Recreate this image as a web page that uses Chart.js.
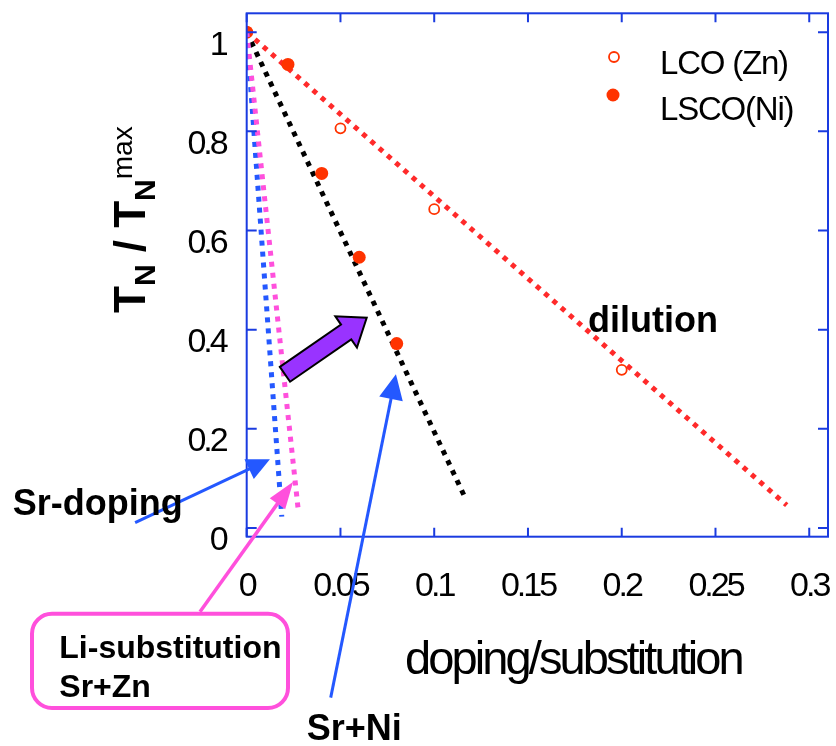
<!DOCTYPE html>
<html>
<head>
<meta charset="utf-8">
<script src="https://cdn.jsdelivr.net/npm/chart.js@4.4.1/dist/chart.umd.min.js"></script>
<style>
  html, body { margin: 0; padding: 0; background: #fff; }
  #wrap { width: 836px; height: 746px; }
</style>
</head>
<body>
<div id="wrap"><canvas id="c" width="836" height="746"></canvas></div>
<script>
// Measured points: T_N / T_N^max against doping / substitution level
const lcoZnX = [0, 0.05, 0.1, 0.2];
const lcoZnY = [1, 0.806, 0.643, 0.319];
const lscoNiX = [0, 0.022, 0.04, 0.06, 0.08];
const lscoNiY = [1, 0.935, 0.715, 0.546, 0.372];

// Guide lines (dotted)
const dilutionX = [0, 0.288];
const dilutionY = [1, 0.046];
const srNiX = [0, 0.116];
const srNiY = [1, 0.065];
const srDopingX = [0, 0.0187];
const srDopingY = [1, 0.023];
const srZnX = [0, 0.0275];
const srZnY = [1, 0.036];

// Axis ticks and text
const xTicks = [0, 0.05, 0.1, 0.15, 0.2, 0.25, 0.3];
const yTicks = [0, 0.2, 0.4, 0.6, 0.8, 1];
const seriesNames = ['LCO (Zn)', 'LSCO(Ni)'];
const xTitle = 'doping/substitution';

const AXIS = '#1a3be0';
const RED_PT = '#ff3300';
const RED_LN = '#ff2a2a';
const BLUE = '#2458ff';
const MAGENTA = '#ff50dc';
const PURPLE = '#9933ff';
const FONT = '"Liberation Sans", Arial, sans-serif';

const pts = (xs, ys) => xs.map((x, i) => ({ x: x, y: ys[i] }));

function dotted(label, xs, ys, color, order) {
  return {
    label: label, data: pts(xs, ys), showLine: true,
    borderColor: color, borderWidth: 5, borderDash: [5, 6], borderCapStyle: 'butt',
    pointRadius: 0, pointHoverRadius: 0, fill: false, order: order
  };
}

function headArrow(ctx, x1, y1, x2, y2, color, lw, headLen, headW) {
  const a = Math.atan2(y2 - y1, x2 - x1);
  const c = Math.cos(a), s = Math.sin(a);
  const bx = x2 - headLen * c, by = y2 - headLen * s;
  ctx.save();
  ctx.strokeStyle = color; ctx.lineWidth = lw; ctx.lineCap = 'butt';
  ctx.beginPath(); ctx.moveTo(x1, y1); ctx.lineTo(bx + c, by + s); ctx.stroke();
  ctx.fillStyle = color;
  ctx.beginPath();
  ctx.moveTo(x2, y2);
  ctx.lineTo(bx + headW / 2 * s, by - headW / 2 * c);
  ctx.lineTo(bx - headW / 2 * s, by + headW / 2 * c);
  ctx.closePath(); ctx.fill();
  ctx.restore();
}

function blockArrow(ctx, x1, y1, x2, y2, shaftW, headW, headLen) {
  const a = Math.atan2(y2 - y1, x2 - x1);
  const c = Math.cos(a), s = Math.sin(a);
  const bx = x2 - headLen * c, by = y2 - headLen * s;
  const n = (w) => [w / 2 * s, -w / 2 * c];
  const [sx, sy] = n(shaftW), [hx, hy] = n(headW);
  ctx.save();
  ctx.beginPath();
  ctx.moveTo(x1 + sx, y1 + sy);
  ctx.lineTo(bx + sx, by + sy);
  ctx.lineTo(bx + hx, by + hy);
  ctx.lineTo(x2, y2);
  ctx.lineTo(bx - hx, by - hy);
  ctx.lineTo(bx - sx, by - sy);
  ctx.lineTo(x1 - sx, y1 - sy);
  ctx.closePath();
  ctx.fillStyle = PURPLE; ctx.fill();
  ctx.lineWidth = 2; ctx.strokeStyle = '#000'; ctx.lineJoin = 'miter'; ctx.stroke();
  ctx.restore();
}

function text(ctx, str, x, y, font, spacing, color) {
  ctx.save();
  ctx.font = font;
  ctx.letterSpacing = (spacing || 0) + 'px';
  ctx.fillStyle = color || '#000';
  ctx.textAlign = 'left';
  ctx.textBaseline = 'alphabetic';
  ctx.fillText(str, x, y);
  ctx.restore();
}

function noPad(s) {
  s.paddingTop = 0; s.paddingBottom = 0; s.paddingLeft = 0; s.paddingRight = 0;
}

const decorations = {
  id: 'decorations',
  beforeDraw(chart) {
    chart.ctx.letterSpacing = '-3px';
  },
  afterDraw(chart) {
    const ctx = chart.ctx;
    const xs = chart.scales.x, ys = chart.scales.y;
    const P = (x, y) => [xs.getPixelForValue(x), ys.getPixelForValue(y)];
    const { left, right, top, bottom } = chart.chartArea;

    // frame with inward ticks on all four sides
    ctx.save();
    ctx.letterSpacing = '0px';
    ctx.strokeStyle = AXIS; ctx.lineWidth = 2;
    ctx.strokeRect(left, top, right - left, bottom - top);
    ctx.beginPath();
    xTicks.forEach(v => {
      const px = xs.getPixelForValue(v);
      ctx.moveTo(px, bottom); ctx.lineTo(px, bottom - 9);
      ctx.moveTo(px, top); ctx.lineTo(px, top + 9);
    });
    yTicks.forEach(v => {
      const py = ys.getPixelForValue(v);
      ctx.moveTo(left, py); ctx.lineTo(left + 10, py);
      ctx.moveTo(right, py); ctx.lineTo(right - 10, py);
    });
    ctx.stroke();
    ctx.restore();

    // legend
    const l0 = chart.data.datasets.find(d => d.label === seriesNames[0]);
    const l1 = chart.data.datasets.find(d => d.label === seriesNames[1]);
    ctx.save();
    ctx.beginPath(); ctx.arc(614, 57, 5, 0, Math.PI * 2);
    ctx.lineWidth = l0.borderWidth; ctx.strokeStyle = l0.borderColor; ctx.stroke();
    ctx.beginPath(); ctx.arc(613, 95, 6.5, 0, Math.PI * 2);
    ctx.fillStyle = l1.backgroundColor; ctx.fill();
    ctx.restore();
    text(ctx, seriesNames[0], 660, 74, '33px ' + FONT, -1.2);
    text(ctx, seriesNames[1], 660, 120, '33px ' + FONT, -1.2);

    // y-axis title: T_N / T_N^max, rotated
    ctx.save();
    ctx.translate(145, 313);
    ctx.rotate(-Math.PI / 2);
    ctx.fillStyle = '#000';
    ctx.textBaseline = 'alphabetic';
    ctx.letterSpacing = '0px';
    let cx = 0;
    const seg = (str, font, dy) => {
      ctx.font = font; ctx.fillText(str, cx, dy); cx += ctx.measureText(str).width;
    };
    seg('T', 'bold 44px ' + FONT, 0);
    seg('N', 'bold 30px ' + FONT, 10);
    seg(' / ', 'bold 44px ' + FONT, 0);
    seg('T', 'bold 44px ' + FONT, 0);
    seg('N', 'bold 30px ' + FONT, 10);
    seg('max', '28px ' + FONT, -13);
    ctx.restore();

    // x-axis title
    text(ctx, xTitle, 405, 674, '47px ' + FONT, -2.9);

    // arrows
    let a, b;
    a = P(0.0204, 0.310); b = P(0.064, 0.424);
    blockArrow(ctx, a[0], a[1], b[0], b[1], 18, 38, 25);
    a = P(-0.0595, 0.0107); b = P(0.0124, 0.1385);
    headArrow(ctx, a[0], a[1], b[0], b[1], BLUE, 3, 23, 22);
    a = P(-0.0249, -0.1688); b = P(0.0248, 0.0933);
    headArrow(ctx, a[0], a[1], b[0], b[1], MAGENTA, 3.5, 27, 19);
    a = P(0.0448, -0.342); b = P(0.0796, 0.3099);
    headArrow(ctx, a[0], a[1], b[0], b[1], BLUE, 3, 25, 24);

    // labels
    const d = P(0.182, 0.396);
    text(ctx, 'dilution', d[0], d[1], 'bold 36px ' + FONT, 0);
    text(ctx, 'Sr-doping', 12.7, 515, 'bold 36px ' + FONT, 0);
    text(ctx, 'Sr+Ni', 306.7, 740, 'bold 36px ' + FONT, 0);

    // boxed label
    ctx.save();
    ctx.strokeStyle = MAGENTA; ctx.lineWidth = 4;
    ctx.beginPath(); ctx.roundRect(32, 613.7, 256, 94.3, 20); ctx.stroke();
    ctx.restore();
    text(ctx, 'Li-substitution', 59.3, 658.3, 'bold 32px ' + FONT, 0);
    text(ctx, 'Sr+Zn', 59.3, 696.7, 'bold 32px ' + FONT, 0);
  }
};

new Chart(document.getElementById('c'), {
  type: 'scatter',
  data: {
    datasets: [
      dotted('dilution', dilutionX, dilutionY, RED_LN, 5),
      dotted('Sr+Ni', srNiX, srNiY, '#000', 4),
      {
        label: seriesNames[1], data: pts(lscoNiX, lscoNiY), showLine: false,
        pointStyle: 'circle', pointRadius: 6.5, pointHoverRadius: 6.5,
        backgroundColor: RED_PT, borderColor: RED_PT, borderWidth: 0, order: 3
      },
      {
        label: seriesNames[0], data: pts(lcoZnX, lcoZnY), showLine: false,
        pointStyle: 'circle', pointRadius: 5, pointHoverRadius: 5,
        backgroundColor: 'rgba(0,0,0,0)', borderColor: RED_PT, borderWidth: 1.8, order: 2
      },
      dotted('Sr-doping', srDopingX, srDopingY, BLUE, 1),
      dotted('Li-substitution / Sr+Zn', srZnX, srZnY, MAGENTA, 0)
    ]
  },
  options: {
    responsive: false,
    devicePixelRatio: 1,
    animation: false,
    events: [],
    layout: { autoPadding: false, padding: { left: 0, top: 13.3, right: 8, bottom: 0 } },
    plugins: { legend: { display: false }, tooltip: { enabled: false } },
    scales: {
      x: {
        type: 'linear', min: 0, max: 0.31,
        afterBuildTicks: s => { s.ticks = xTicks.map(v => ({ value: v })); },
        afterFit: s => { s.height = 746 - 536.7; noPad(s); },
        grid: { display: false, drawTicks: false },
        border: { display: false },
        ticks: {
          padding: 30, color: '#000', maxRotation: 0, autoSkip: false,
          font: { family: FONT, size: 34 },
          callback: v => String(v)
        }
      },
      y: {
        type: 'linear', min: -0.0175, max: 1.038,
        afterBuildTicks: s => { s.ticks = yTicks.map(v => ({ value: v })); },
        afterFit: s => { s.width = 246.7; noPad(s); },
        grid: { display: false, drawTicks: false },
        border: { display: false },
        ticks: {
          padding: 21, labelOffset: 13, color: '#000', autoSkip: false,
          font: { family: FONT, size: 34 },
          callback: v => String(v)
        }
      }
    }
  },
  plugins: [decorations]
});
</script>
</body>
</html>
